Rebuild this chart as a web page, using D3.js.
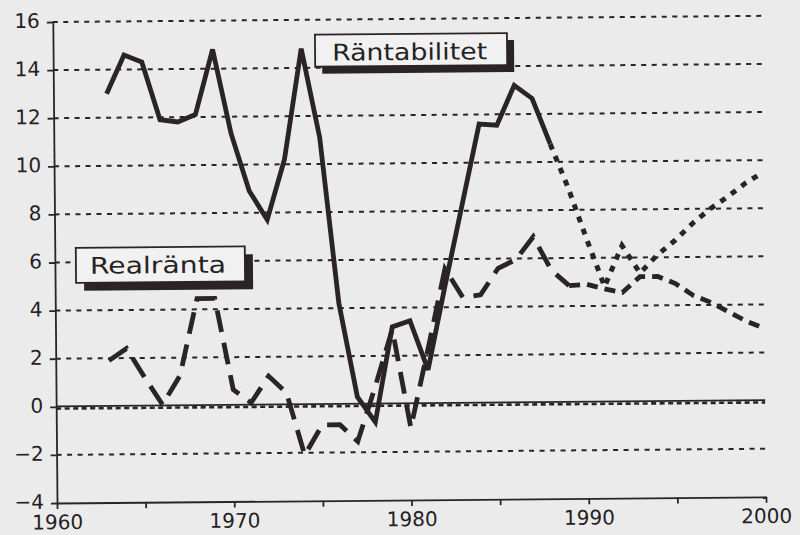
<!DOCTYPE html>
<html>
<head>
<meta charset="utf-8">
<script src="https://cdn.jsdelivr.net/npm/d3@7"></script>
<style>
  body { margin: 0; background: #ebebeb; }
  svg { display: block; }
  text { font-family: "DejaVu Sans", sans-serif; fill: #262123; }
</style>
</head>
<body>
<div id="chart"></div>
<script>
// data (percent)
const years = [1963, 1964, 1965, 1966, 1967, 1968, 1969, 1970, 1971, 1972,
  1973, 1974, 1975, 1976, 1977, 1978, 1979, 1980, 1981, 1982,
  1983, 1984, 1985, 1986, 1987, 1988, 1989, 1990, 1991, 1992,
  1993, 1994, 1995, 1996, 1997, 1998, 1999, 2000];
const rantabilitet = [13.0, 14.6, 14.3, 11.9, 11.8, 12.1, 14.8, 11.3, 8.9, 7.7,
  10.2, 14.8, 11.1, 4.2, 0.3, -0.75, 3.2, 3.45, 1.4, 4.9,
  8.25, 11.6, 11.55, 13.2, 12.65, 10.75, 8.9, 6.8, 4.8, 6.5,
  5.35, 6.1, 6.7, 7.4, 8.0, 8.5, 9.05, 9.5];
const realranta = [1.9, 2.4, 1.2, 0.05, 1.25, 4.45, 4.45, 0.65, 0.1, 1.2,
  0.5, -2.1, -0.85, -0.85, -1.55, 0.7, 3.1, -1.0, 2.25, 5.6,
  4.4, 4.5, 5.6, 5.95, 6.9, 5.5, 4.85, 4.9, 4.7, 4.55,
  5.2, 5.2, 4.9, 4.4, 4.1, 3.7, 3.3, 3.0];
const rantabilitetForecastFrom = 1988;
const realrantaForecastFrom = 1989;
const yTicks = [-4, -2, 0, 2, 4, 6, 8, 10, 12, 14, 16];
const xTicks = [1960, 1965, 1970, 1975, 1980, 1985, 1990, 1995, 2000];

const width = 800, height = 535;
const ink = "#2a2426";

const svg = d3.select("#chart").append("svg")
  .attr("width", width).attr("height", height);
svg.append("rect").attr("width", width).attr("height", height).attr("fill", "#ebebeb");

// the scan is slightly tilted
const g = svg.append("g").attr("transform", "rotate(-0.5,57,503)");

const x = d3.scaleLinear().domain([1960, 2000]).range([57, 766]);
const y = d3.scaleLinear().domain([-4, 16]).range([503, 22]);

// dotted grid
g.selectAll(".grid").data(yTicks.filter(d => d !== 0 && d !== -4)).join("line")
  .attr("class", "grid")
  .attr("x1", x(1960)).attr("x2", x(2000))
  .attr("y1", d => y(d)).attr("y2", d => y(d))
  .attr("stroke", ink).attr("stroke-width", 2)
  .attr("stroke-dasharray", "5,5.5");

// zero line: solid with a dotted row underneath
g.append("line")
  .attr("x1", x(1960)).attr("x2", x(2000))
  .attr("y1", y(0) - 0.5).attr("y2", y(0) - 0.5)
  .attr("stroke", ink).attr("stroke-width", 1.8);
g.append("line")
  .attr("x1", x(1960)).attr("x2", x(2000))
  .attr("y1", y(0) + 1.8).attr("y2", y(0) + 1.8)
  .attr("stroke", ink).attr("stroke-width", 2.6)
  .attr("stroke-dasharray", "5,3.5");

// axes
const yAxis = g.append("g").attr("transform", `translate(${x(1960)},0)`)
  .call(d3.axisLeft(y).tickValues(yTicks).tickSize(6).tickSizeOuter(0).tickPadding(7));
const xAxis = g.append("g").attr("transform", `translate(0,${y(-4)})`)
  .call(d3.axisBottom(x).tickValues(xTicks).tickSize(6).tickSizeOuter(0).tickPadding(6)
    .tickFormat(d => d % 10 === 0 ? d : ""));
[yAxis, xAxis].forEach(a => {
  a.select(".domain").attr("stroke", ink).attr("stroke-width", 1.8);
  a.selectAll(".tick line").attr("stroke", ink).attr("stroke-width", 1.8);
  a.selectAll("text").attr("fill", ink).style("font-size", "20px")
    .style("font-family", "'DejaVu Sans', sans-serif");
});
yAxis.selectAll("text").attr("dy", "0.26em");

// series
const rows = years.map((yr, i) => ({ year: yr, ran: rantabilitet[i], real: realranta[i] }));
const lineR = d3.line().x(d => x(d.year)).y(d => y(d.ran));
const lineReal = d3.line().x(d => x(d.year)).y(d => y(d.real));

function draw(gen, data, dash, w) {
  g.append("path").datum(data)
    .attr("d", gen)
    .attr("fill", "none")
    .attr("stroke", ink)
    .attr("stroke-width", w)
    .attr("stroke-linejoin", "miter")
    .attr("stroke-miterlimit", 3)
    .attr("stroke-dasharray", dash);
}

draw(lineReal, rows.filter(d => d.year <= realrantaForecastFrom), "22,11", 4.8);
draw(lineReal, rows.filter(d => d.year >= realrantaForecastFrom), "11,7", 4.8);
draw(lineR, rows.filter(d => d.year <= rantabilitetForecastFrom), null, 4.8);
draw(lineR, rows.filter(d => d.year >= rantabilitetForecastFrom), "6,7", 5);

// labels with drop-shadow boxes
function label(text, bx, by, bw, bh, tx, ty, tlen, off) {
  g.append("rect").attr("x", bx + off).attr("y", by + off)
    .attr("width", bw).attr("height", bh).attr("fill", ink);
  g.append("rect").attr("x", bx).attr("y", by)
    .attr("width", bw).attr("height", bh)
    .attr("fill", "#f1f1f1").attr("stroke", ink).attr("stroke-width", 1.8);
  g.append("text").attr("x", tx).attr("y", ty)
    .attr("textLength", tlen).attr("lengthAdjust", "spacingAndGlyphs")
    .style("font-size", "23px")
    .text(text);
}
label("Räntabilitet", 319, 37, 192, 32, 336, 63, 155, 7);
label("Realränta", 78, 248, 169, 35, 92, 274, 136, 8);
</script>
</body>
</html>
